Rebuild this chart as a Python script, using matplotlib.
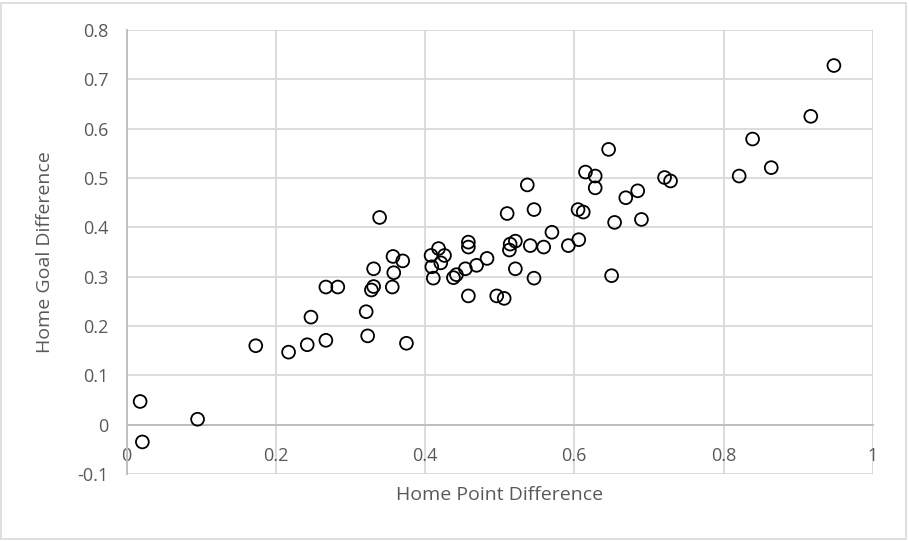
import matplotlib
matplotlib.use("Agg")
import matplotlib.pyplot as plt
from matplotlib.patches import Rectangle

# Data
home_point_diff = [
    0.018, 0.021, 0.095, 0.173, 0.217, 0.242, 0.247, 0.267, 0.267, 0.283,
    0.321, 0.323, 0.339, 0.331, 0.331, 0.328, 0.357, 0.370, 0.358, 0.356,
    0.375, 0.408, 0.418, 0.426, 0.421, 0.409, 0.411, 0.438, 0.442, 0.454,
    0.458, 0.458, 0.469, 0.483, 0.458, 0.496, 0.506, 0.510, 0.513, 0.514,
    0.521, 0.521, 0.537, 0.541, 0.546, 0.546, 0.559, 0.570, 0.592, 0.606,
    0.605, 0.612, 0.615, 0.628, 0.628, 0.646, 0.650, 0.654, 0.669, 0.685,
    0.690, 0.721, 0.729, 0.821, 0.839, 0.864, 0.917, 0.948,
]
home_goal_diff = [
    0.047, -0.035, 0.011, 0.160, 0.147, 0.162, 0.218, 0.171, 0.279, 0.279,
    0.229, 0.180, 0.420, 0.316, 0.280, 0.273, 0.341, 0.332, 0.308, 0.279,
    0.165, 0.343, 0.357, 0.343, 0.328, 0.320, 0.297, 0.298, 0.304, 0.316,
    0.370, 0.360, 0.323, 0.337, 0.261, 0.261, 0.256, 0.428, 0.354, 0.366,
    0.372, 0.316, 0.486, 0.363, 0.436, 0.297, 0.360, 0.390, 0.363, 0.375,
    0.436, 0.431, 0.512, 0.504, 0.480, 0.558, 0.302, 0.410, 0.460, 0.474,
    0.416, 0.501, 0.494, 0.504, 0.579, 0.521, 0.625, 0.728,
]
x_ticks = [0, 0.2, 0.4, 0.6, 0.8, 1]
x_tick_labels = ["0", "0.2", "0.4", "0.6", "0.8", "1"]
y_ticks = [-0.1, 0, 0.1, 0.2, 0.3, 0.4, 0.5, 0.6, 0.7, 0.8]
y_tick_labels = ["-0.1", "0", "0.1", "0.2", "0.3", "0.4", "0.5", "0.6", "0.7", "0.8"]
x_title = "Home Point Difference"
y_title = "Home Goal Difference"

plt.rcParams['font.family'] = ['Open Sans', 'DejaVu Sans']
text_color = "#595959"
grid_color = "#d9d9d9"
axis_color = "#bfbfbf"

fig = plt.figure(figsize=(9.09, 5.41), dpi=100)
fig.patch.set_facecolor("white")
ax = fig.add_axes([126.7 / 909, 1 - 474 / 541, (872.7 - 126.7) / 909, (474 - 30) / 541])

ax.set_xlim(0, 1)
ax.set_ylim(-0.1, 0.8)
ax.set_xticks(x_ticks)
ax.set_xticklabels(x_tick_labels)
ax.set_yticks(y_ticks)
ax.set_yticklabels(y_tick_labels)

ax.grid(True, color=grid_color, linewidth=1.3)
ax.set_axisbelow(True)

for s in ["top", "right"]:
    ax.spines[s].set_visible(False)
ax.spines["bottom"].set_position(("data", 0))
ax.spines["bottom"].set_color(axis_color)
ax.spines["bottom"].set_linewidth(1.4)
ax.spines["left"].set_color(axis_color)
ax.spines["left"].set_linewidth(1.4)

ax.tick_params(axis="x", length=0, pad=16, labelsize=13, labelcolor=text_color)
ax.tick_params(axis="y", length=0, pad=13, labelsize=13, labelcolor=text_color)

ax.scatter(home_point_diff, home_goal_diff, s=85, facecolors="none",
           edgecolors="black", linewidths=1.3, zorder=3)

ax.set_xlabel(x_title, fontsize=14, color=text_color)
ax.xaxis.set_label_coords(0.5, -0.028)
ax.set_ylabel(y_title, fontsize=14, color=text_color)
ax.yaxis.set_label_coords(-0.098, 0.5)

fig.patches.append(Rectangle((0.001, 0.004), 0.996, 0.99, transform=fig.transFigure,
                             fill=False, edgecolor=grid_color, linewidth=1.2))

fig.savefig("out.png", dpi=100, facecolor="white")
